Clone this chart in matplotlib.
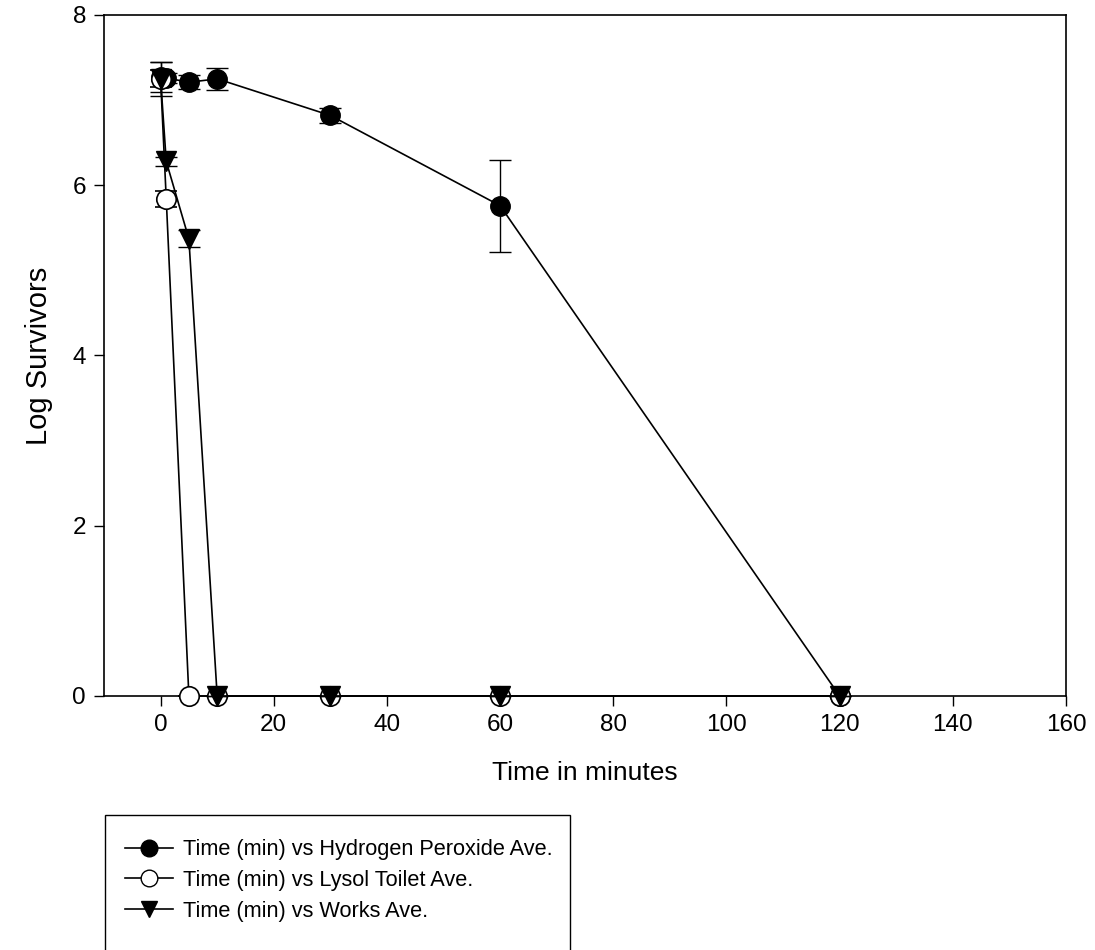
import matplotlib
matplotlib.use("Agg")
import matplotlib.pyplot as plt
from matplotlib.patches import Rectangle
from matplotlib.lines import Line2D

plt.rcParams['font.family'] = ['Liberation Sans', 'DejaVu Sans']

# Data
time_h2o2 = [0, 1, 5, 10, 30, 60, 120]
h2o2_ave = [7.27, 7.26, 7.21, 7.25, 6.82, 5.76, 0.0]
h2o2_err = [0.18, 0.06, 0.08, 0.13, 0.09, 0.54, 0.0]

time_lysol = [0, 1, 5, 10, 30, 60, 120]
lysol_ave = [7.25, 5.84, 0.0, 0.0, 0.0, 0.0, 0.0]
lysol_err = [0.1, 0.09, 0.0, 0.0, 0.0, 0.0, 0.0]

time_works = [0, 1, 5, 10, 30, 60, 120]
works_ave = [7.25, 6.28, 5.37, 0.0, 0.0, 0.0, 0.0]
works_err = [0.2, 0.05, 0.1, 0.0, 0.0, 0.0, 0.0]

labels = ["Time (min) vs Hydrogen Peroxide Ave.",
          "Time (min) vs Lysol Toilet Ave.",
          "Time (min) vs Works Ave."]

W, H = 1095, 950
fig = plt.figure(figsize=(W / 100, H / 100), dpi=100)
ax = fig.add_axes([104 / W, 1 - 696 / H, (1066 - 104) / W, (696 - 15) / H])

common = dict(color='black', lw=1.2, ecolor='black', elinewidth=1.0,
              capsize=8, capthick=1.0, clip_on=False)
ax.errorbar(time_h2o2, h2o2_ave, yerr=h2o2_err, marker='o', ms=14,
            mfc='black', mec='black', zorder=3, **common)
ax.errorbar(time_lysol, lysol_ave, yerr=lysol_err, marker='o', ms=14,
            mfc='white', mec='black', mew=1.2, zorder=4, **common)
ax.errorbar(time_works, works_ave, yerr=works_err, marker='v', ms=14,
            mfc='black', mec='black', zorder=5, **common)

ax.set_xlim(-10, 160)
ax.set_ylim(0, 8)
ax.set_xticks(range(0, 161, 20))
ax.set_yticks(range(0, 9, 2))
ax.tick_params(direction='out', length=7, width=1, labelsize=17.5, pad=6)
for s in ax.spines.values():
    s.set_linewidth(1.2)
ax.set_xlabel("Time in minutes", fontsize=19, labelpad=18)
ax.set_ylabel("Log Survivors", fontsize=21, labelpad=14)

# legend box (cut off at bottom)
fig.patches.append(Rectangle((105 / W, -0.05), (570 - 105) / W, (1 - 815 / H) + 0.05,
                             transform=fig.transFigure, fill=False,
                             edgecolor='black', lw=1.0))
handles = [
    Line2D([], [], color='black', lw=1.2, marker='o', ms=12, mfc='black', mec='black'),
    Line2D([], [], color='black', lw=1.2, marker='o', ms=12, mfc='white', mec='black'),
    Line2D([], [], color='black', lw=1.2, marker='v', ms=12, mfc='black', mec='black'),
]
fig.legend(handles, labels, loc='upper left', bbox_to_anchor=(110 / W, 1 - 824 / H),
           frameon=False, fontsize=15.7, handlelength=2.2, handletextpad=0.45,
           labelspacing=0.45, borderpad=0.2)

fig.savefig("out.png", dpi=100)
